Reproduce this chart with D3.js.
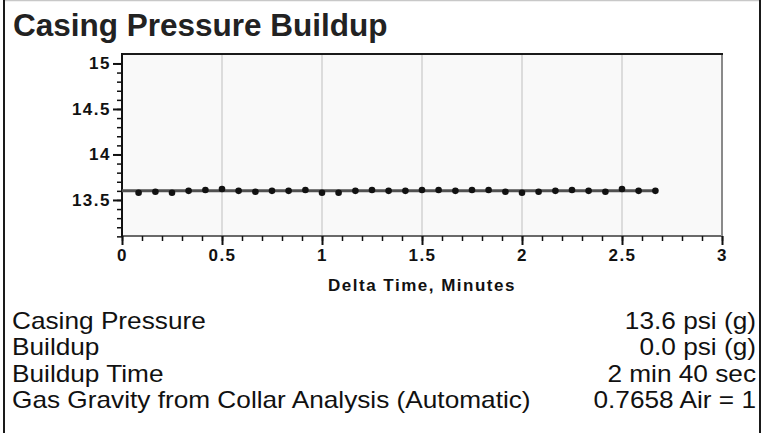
<!DOCTYPE html>
<html><head><meta charset="utf-8">
<script src="https://cdn.jsdelivr.net/npm/d3@7"></script>
<style>
html,body{margin:0;padding:0;background:#fff;}
svg{display:block;}
</style></head>
<body>
<svg id="chart" width="770" height="433"></svg>
<script>
const title = "Casing Pressure Buildup";
const xAxisTitle = "Delta Time, Minutes";
const timeMinutes = [0.083,0.167,0.25,0.333,0.417,0.5,0.583,0.667,0.75,0.833,0.917,1.0,1.083,1.167,1.25,1.333,1.417,1.5,1.583,1.667,1.75,1.833,1.917,2.0,2.083,2.167,2.25,2.333,2.417,2.5,2.583,2.667];
const pressurePsi = [13.58,13.59,13.58,13.60,13.61,13.62,13.60,13.59,13.60,13.60,13.61,13.58,13.58,13.60,13.61,13.60,13.60,13.61,13.61,13.60,13.61,13.61,13.59,13.58,13.59,13.60,13.61,13.60,13.59,13.62,13.60,13.60];
const trendTimes = [0, 2.667];
const trendPsi = [13.6, 13.6];
const xTicks = [0,0.5,1,1.5,2,2.5,3];
const xTickLabels = ["0","0.5","1","1.5","2","2.5","3"];
const yTicks = [13.5,14,14.5,15];
const yTickLabels = ["13.5","14","14.5","15"];
const infoLabels = ["Casing Pressure","Buildup","Buildup Time","Gas Gravity from Collar Analysis (Automatic)"];
const infoValues = ["13.6 psi (g)","0.0 psi (g)","2 min 40 sec","0.7658 Air = 1"];

const svg = d3.select("#chart");
const W = 770, H = 433;
const plot = {left:122, right:722, top:54, bottom:236};

// outer frame
svg.append("line").attr("x1",4).attr("x2",760).attr("y1",0.5).attr("y2",0.5).attr("stroke","#c8c8c8").attr("stroke-width",1.5);
svg.append("line").attr("x1",4).attr("x2",4).attr("y1",0).attr("y2",H).attr("stroke","#1a1a1a").attr("stroke-width",2);
svg.append("line").attr("x1",760).attr("x2",760).attr("y1",0).attr("y2",H).attr("stroke","#1a1a1a").attr("stroke-width",2);

svg.append("text").attr("x",13).attr("y",36)
  .attr("font-family","'Liberation Sans', Arial, sans-serif").attr("font-weight","bold")
  .attr("font-size",31.5).attr("fill","#222").text(title);

const x = d3.scaleLinear().domain([0,3]).range([plot.left, plot.right]);
const y = d3.scaleLinear().domain([13.104,15.104]).range([plot.bottom, plot.top]);

// plot background
svg.append("rect").attr("x",plot.left).attr("y",plot.top)
  .attr("width",plot.right-plot.left).attr("height",plot.bottom-plot.top).attr("fill","#f9f9f9");

// vertical gridlines
svg.append("g").selectAll("line").data(xTicks.filter(t=>t>0 && t<3)).join("line")
  .attr("x1",d=>x(d)).attr("x2",d=>x(d)).attr("y1",plot.top).attr("y2",plot.bottom)
  .attr("stroke","#dcdcdc").attr("stroke-width",2);

// plot borders
svg.append("line").attr("x1",plot.left).attr("x2",plot.right).attr("y1",plot.bottom).attr("y2",plot.bottom).attr("stroke","#6a6a6a").attr("stroke-width",2);
svg.append("line").attr("x1",plot.right).attr("x2",plot.right).attr("y1",plot.top).attr("y2",plot.bottom).attr("stroke","#8a8a8a").attr("stroke-width",2);
svg.append("line").attr("x1",plot.left).attr("x2",plot.right+1).attr("y1",plot.top).attr("y2",plot.top).attr("stroke","#1a1a1a").attr("stroke-width",2);

const tickFont = "'Liberation Sans', Arial, sans-serif";

// X axis
const xMinor = d3.range(0,31).map(i=>i/10);
const xAxis = d3.axisBottom(x).tickValues(xMinor).tickSize(5).tickFormat("");
const gx = svg.append("g").attr("transform",`translate(0,${plot.bottom})`).call(xAxis);
gx.select(".domain").remove();
gx.selectAll(".tick line").attr("stroke","#111").attr("stroke-width",1.5);
const xMajor = d3.axisBottom(x).tickValues(xTicks).tickSize(9).tickPadding(4)
  .tickFormat((d,i)=>xTickLabels[i]);
const gx2 = svg.append("g").attr("transform",`translate(0,${plot.bottom})`).call(xMajor);
gx2.select(".domain").remove();
gx2.selectAll(".tick line").attr("stroke","#111").attr("stroke-width",2);
gx2.selectAll(".tick text").attr("font-family",tickFont).attr("font-weight","bold")
  .attr("font-size",17).attr("fill","#111").attr("letter-spacing",1.5);

// Y axis
const yMinor = d3.range(131,151).map(i=>i/10);
const yAxis = d3.axisLeft(y).tickValues(yMinor).tickSize(5).tickFormat("");
const gy = svg.append("g").attr("transform",`translate(${plot.left},0)`).call(yAxis);
gy.select(".domain").remove();
gy.selectAll(".tick line").attr("stroke","#111").attr("stroke-width",1.5);
const yMajor = d3.axisLeft(y).tickValues(yTicks).tickSize(9).tickPadding(2)
  .tickFormat((d,i)=>yTickLabels[i]);
const gy2 = svg.append("g").attr("transform",`translate(${plot.left},0)`).call(yMajor);
gy2.select(".domain").remove();
gy2.selectAll(".tick line").attr("stroke","#111").attr("stroke-width",2);
gy2.selectAll(".tick text").attr("font-family",tickFont).attr("font-weight","bold")
  .attr("font-size",17).attr("fill","#111").attr("letter-spacing",1.5);

// left axis line
svg.append("line").attr("x1",plot.left).attr("x2",plot.left).attr("y1",plot.top-1).attr("y2",plot.bottom+1)
  .attr("stroke","#111").attr("stroke-width",2);

// x axis title
svg.append("text").attr("x",(plot.left+plot.right)/2).attr("y",291).attr("text-anchor","middle")
  .attr("font-family",tickFont).attr("font-weight","bold").attr("font-size",17)
  .attr("letter-spacing",1.5).attr("fill","#111").text(xAxisTitle);

// trend line
const trend = trendTimes.map((t,i)=>({t, v:trendPsi[i]}));
svg.append("path").datum(trend)
  .attr("d", d3.line().x(d=>x(d.t)).y(d=>y(d.v)))
  .attr("fill","none").attr("stroke","#505050").attr("stroke-width",3);

// points
const pts = timeMinutes.map((t,i)=>({t, v:pressurePsi[i]}));
svg.append("g").selectAll("circle").data(pts).join("circle")
  .attr("cx",d=>x(d.t)).attr("cy",d=>y(d.v)).attr("r",3.3).attr("fill","#111");

// info table
const infoFont = "'Liberation Sans', Arial, sans-serif";
const stretch = 1.14;
const rowY = d3.scaleLinear().domain([0,3]).range([329,408]);
svg.append("g").selectAll("text").data(infoLabels).join("text")
  .attr("transform",(d,i)=>`translate(12,${rowY(i)}) scale(${stretch},1)`)
  .attr("font-family",infoFont).attr("font-size",23).attr("fill","#111").text(d=>d);
svg.append("g").selectAll("text").data(infoValues).join("text")
  .attr("transform",(d,i)=>`translate(756,${rowY(i)}) scale(${stretch},1)`)
  .attr("text-anchor","end").attr("font-family",infoFont)
  .attr("font-size",23).attr("fill","#111").text(d=>d);
</script>
</body></html>
